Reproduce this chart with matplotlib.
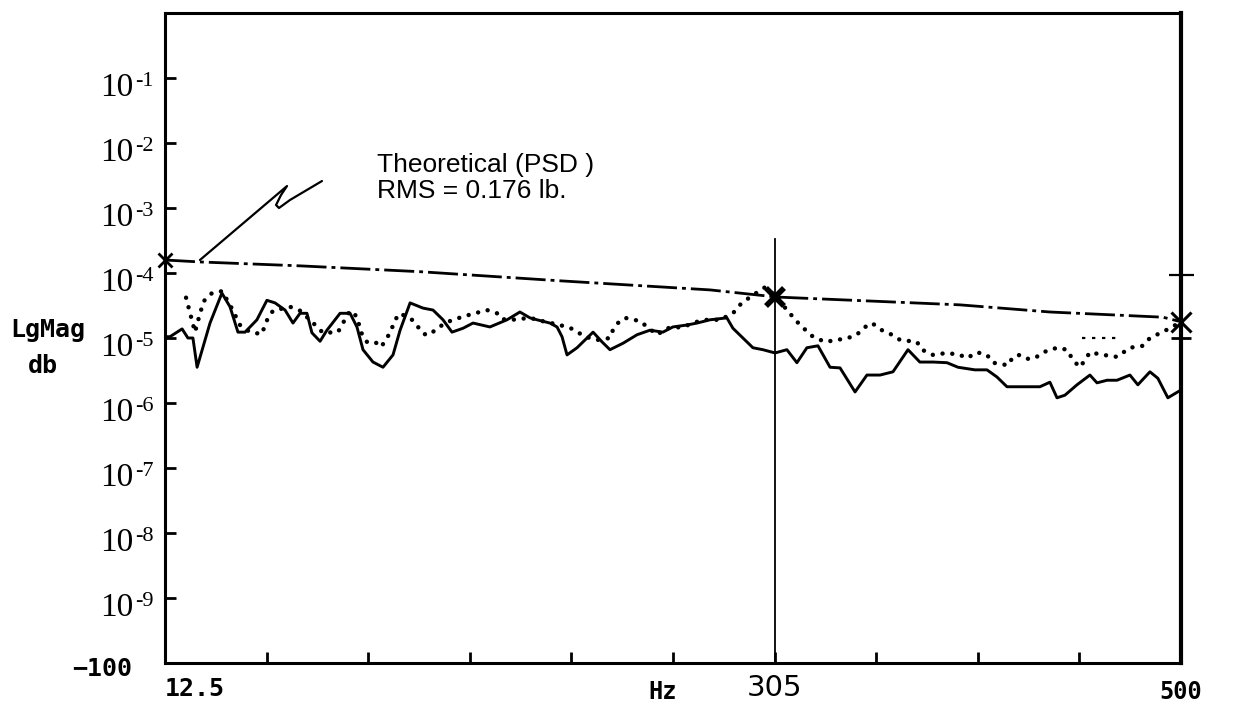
import numpy as np
import matplotlib
matplotlib.use("Agg")
import matplotlib.pyplot as plt
import matplotlib.transforms as mtransforms

# Measured spectrum (solid) – frequency in Hz, level in dB (10*log10 magnitude)
solid_hz = [12.5, 14.9, 20.7, 23.5, 25.9, 27.9, 34.1, 39.8, 43.7, 47.5, 50.9, 56.6,
            61.4, 65.3, 70.1, 73.9, 77.3, 80.6, 83.0, 86.9, 90.2, 96.5, 101.3, 104.6,
            107.5, 112.3, 117.1, 121.9, 125.3, 130.1, 136.3, 141.1, 145.9, 150.2,
            155.5, 160.3, 168.4, 176.6, 182.8, 187.6, 191.0, 197.2, 200.6, 203.0,
            205.4, 210.2, 215.0, 217.9, 222.2, 226.0, 232.3, 239.0, 245.2, 251.4,
            256.2, 263.0, 267.8, 274.0, 282.1, 285.0, 294.6, 299.4, 305.2, 310.9,
            315.7, 320.5, 325.8, 331.6, 336.4, 343.6, 349.3, 355.6, 361.8, 369.0,
            374.7, 381.0, 387.7, 393.0, 401.1, 406.9, 411.7, 416.5, 432.3, 437.1,
            440.5, 444.3, 450.1, 456.3, 459.7, 464.5, 469.3, 475.5, 479.3, 485.1,
            488.9, 493.7, 500.0]
solid_db = [-49.8, -49.8, -48.6, -50.0, -50.0, -54.5, -47.7, -43.1, -45.2, -49.1, -49.1, -47.2,
            -44.2, -44.6, -45.7, -47.7, -46.2, -46.2, -49.2, -50.5, -48.8, -46.2, -46.2, -48.3,
            -51.8, -53.7, -54.5, -52.6, -48.8, -44.6, -45.4, -45.7, -47.2, -49.1,
            -48.5, -47.7, -48.3, -47.2, -46.0, -46.9, -47.2, -47.7, -48.3, -49.8,
            -52.6, -51.5, -50.0, -49.1, -50.6, -51.8, -50.8, -49.5, -48.8, -49.1,
            -48.3, -48.0, -47.7, -47.2, -46.9, -48.5, -51.5, -51.8, -52.3, -51.8,
            -53.8, -51.5, -51.2, -54.5, -54.6, -58.3, -55.7, -55.7, -55.2, -51.8,
            -53.7, -53.7, -53.8, -54.5, -54.9, -54.9, -56.0, -57.5, -57.5, -56.8,
            -59.2, -58.8, -57.2, -55.7, -56.9, -56.5, -56.5, -55.7, -57.2, -55.2,
            -56.2, -59.2, -58.0]

# Second measured spectrum (dotted)
dotted_hz = [22.6, 26.9, 29.3, 31.2, 35.0, 39.8, 43.7, 48.5, 53.3, 59.0, 61.0, 64.3,
             72.5, 77.3, 83.0, 88.3, 95.5, 97.9, 101.3, 104.6, 106.5, 109.4, 113.3,
             116.1, 118.5, 120.9, 122.9, 125.3, 131.0, 133.9, 136.8, 139.6, 143.0,
             148.3, 155.5, 161.2, 167.0, 171.8, 174.2, 179.0, 187.6, 194.8, 202.0,
             208.0, 214.0, 220.0, 226.0, 227.4, 229.8, 233.2, 240.4, 248.6, 253.4,
             261.0, 267.8, 272.6, 278.8, 285.0, 288.4, 293.2, 300.4, 306.1, 310.9,
             317.2, 323.4, 329.2, 334.9, 340.2, 344.5, 347.4, 351.7, 356.5, 361.3,
             365.2, 373.3, 375.7, 381.0, 387.7, 393.9, 397.3, 402.1, 406.9, 409.8,
             417.0, 419.4, 422.7, 426.6, 429.9, 433.8, 440.5, 445.3, 448.2, 451.5,
             453.9, 456.3, 462.6, 469.3, 475.5, 481.7, 485.1, 490.9, 494.7, 500.0]
dotted_db = [-43.8, -49.1, -46.2, -44.3, -43.1, -42.8, -44.9, -48.0, -49.1, -49.4, -47.5, -45.8,
             -45.2, -45.8, -47.5, -49.2, -49.1, -47.7, -45.8, -46.7, -49.1, -50.6, -50.6,
             -51.4, -50.3, -48.9, -47.2, -46.2, -47.2, -48.3, -49.4, -49.5, -48.5,
             -47.5, -46.7, -46.2, -45.7, -46.2, -47.1, -47.2, -46.9, -47.5, -48.0,
             -48.6, -49.8, -50.3, -50.0, -48.8, -47.7, -46.9, -47.4, -49.5, -48.5,
             -48.3, -47.5, -47.2, -47.2, -46.2, -44.9, -43.7, -42.2, -43.7, -45.7,
             -48.0, -49.8, -50.6, -50.3, -50.0, -49.5, -48.5, -47.7, -48.8, -49.5,
             -50.3, -50.6, -51.8, -52.6, -52.3, -52.6, -53.1, -52.2, -52.6, -53.8,
             -54.2, -52.9, -52.6, -53.2, -53.1, -52.2, -51.5, -51.8, -53.4, -54.5,
             -53.4, -52.2, -52.6, -52.9, -51.5, -51.2, -50.0, -49.1, -48.5, -47.5]

# Short fragment of a fine dotted trace near the upper end
frag_hz = [452.5, 469.3]
frag_db = [-50.0, -50.0]

# Theoretical PSD reference line
theory_hz = [12.5, 29.3, 77.3, 134.9, 202.0, 274.0, 306.1, 393.9, 437.1, 491.3, 500.0]
theory_db = [-38.0, -38.3, -38.9, -39.8, -41.2, -42.6, -43.7, -44.9, -46.0, -46.8, -47.5]

# Cursor
cursor_hz = 305.0
cursor_top_db = -34.8
cursor_mark_db = -43.7

# Axis setup
f_min, f_max = 12.5, 500.0
n_div = 10
decades = [-1, -2, -3, -4, -5, -6, -7, -8, -9]
exp_labels = ["-%d" % (-d) for d in decades]


def db_to_mag(v):
    return 10.0 ** (np.asarray(v, dtype=float) / 10.0)


fig = plt.figure(figsize=(12.39, 7.04), dpi=100)
ax = fig.add_axes([165 / 1239, 1 - 663 / 704, 1016 / 1239, 650 / 704])
ax.set_yscale("log")
ax.set_xlim(f_min, f_max)
ax.set_ylim(1e-10, 1e0)

for side, sp in ax.spines.items():
    sp.set_linewidth(2.2)
ax.spines["right"].set_linewidth(3.0)

# ticks: inward, no built-in labels
step = (f_max - f_min) / n_div
ax.set_xticks([f_min + k * step for k in range(1, n_div)])
ax.set_yticks([10.0 ** d for d in decades])
ax.yaxis.set_minor_locator(matplotlib.ticker.NullLocator())
ax.tick_params(axis="both", which="major", direction="in", length=8, width=2,
               labelbottom=False, labelleft=False, color="black")

# Curves
ax.plot(theory_hz, db_to_mag(theory_db), color="black", lw=2.0,
        linestyle=(0, (10.8, 1.8, 1.4, 1.8)), solid_capstyle="butt")
ax.plot(solid_hz, db_to_mag(solid_db), color="black", lw=2.1, solid_joinstyle="round")
ax.plot(dotted_hz, db_to_mag(dotted_db), color="black", lw=3.2,
        linestyle=(0, (0.01, 2.2)), dash_capstyle="round")
ax.plot(frag_hz, db_to_mag(frag_db), color="black", lw=1.6,
        linestyle=(0, (1.5, 3.0)))

# Cursor line and markers
ax.plot([cursor_hz, cursor_hz], [1e-10, db_to_mag(cursor_top_db)], color="black", lw=1.3)
ax.plot([cursor_hz], [db_to_mag(cursor_mark_db)], marker="x", ms=13, mew=4, color="black")
ax.plot([theory_hz[0]], [db_to_mag(theory_db[0])], marker="x", ms=10, mew=2, color="black",
        clip_on=False)
ax.plot([theory_hz[-1]], [db_to_mag(theory_db[-1])], marker="x", ms=14, mew=2.2, color="black",
        clip_on=False)
ax.plot([f_max], [db_to_mag(-40.3)], marker="_", ms=18, mew=1.6, color="black", clip_on=False)
ax.plot([f_max], [db_to_mag(-50.0)], marker="_", ms=14, mew=2, color="black", clip_on=False)

# Y tick labels: "10" with a raised exponent, both in a Times-like serif
serif = ["Liberation Serif", "DejaVu Serif"]
ylab_base = mtransforms.blended_transform_factory(fig.transFigure, ax.transData)
base_tr = ylab_base + mtransforms.ScaledTranslation(0, -18 / 100, fig.dpi_scale_trans)
sup_tr = ylab_base + mtransforms.ScaledTranslation(0, -8 / 100, fig.dpi_scale_trans)
for d, lab in zip(decades, exp_labels):
    fig.text(100 / 1239, 10.0 ** d, "10", transform=base_tr, ha="left", va="baseline",
             fontsize=24, family=serif)
    fig.text(135 / 1239, 10.0 ** d, lab, transform=sup_tr, ha="left", va="baseline",
             fontsize=16, family=serif)

mono = ["DejaVu Sans Mono"]
fig.text(132 / 1239, 1e-10, "\u2212100", transform=ylab_base + mtransforms.ScaledTranslation(
    0, -6 / 100, fig.dpi_scale_trans), ha="right", va="center",
    fontsize=18, family=mono, fontweight="bold")
fig.text(10 / 1239, 1 - 337 / 704, "LgMag", ha="left", va="baseline",
         fontsize=18, family=mono, fontweight="bold")
fig.text(28 / 1239, 1 - 373 / 704, "db", ha="left", va="baseline",
         fontsize=18, family=mono, fontweight="bold")

# X axis labels
xlab_tr = mtransforms.blended_transform_factory(ax.transData, ax.transAxes)
ax.text(f_min, -0.022, "12.5", transform=xlab_tr, ha="left", va="top",
        fontsize=18, family=mono, fontweight="bold")
ax.text(0.49, -0.026, "Hz", transform=ax.transAxes, ha="center", va="top",
        fontsize=17, family=mono, fontweight="bold")
ax.text(cursor_hz, -0.017, "305", transform=xlab_tr, ha="center", va="top",
        fontsize=21, family=["Liberation Sans Narrow", "DejaVu Sans"])
ax.text(f_max, -0.026, "500", transform=xlab_tr, ha="center", va="top",
        fontsize=17, family=mono, fontweight="bold")

# Annotation with pointer
ax.text(0.2087, 0.7554, "Theoretical (PSD )", transform=ax.transAxes, ha="left",
        va="baseline", fontsize=19, family=["Liberation Sans", "DejaVu Sans"])
ax.text(0.2087, 0.7154, "RMS = 0.176 lb.", transform=ax.transAxes, ha="left",
        va="baseline", fontsize=19, family=["Liberation Sans", "DejaVu Sans"])
px = [0.1545, 0.1230, 0.1122, 0.1093, 0.1142, 0.1201, 0.0344]
py = [0.7415, 0.7123, 0.7000, 0.7046, 0.7200, 0.7338, 0.6200]
ax.plot(px, py, transform=ax.transAxes, color="black", lw=1.6, solid_capstyle="round",
        solid_joinstyle="round")

fig.savefig("out.png", dpi=100, facecolor="white")
